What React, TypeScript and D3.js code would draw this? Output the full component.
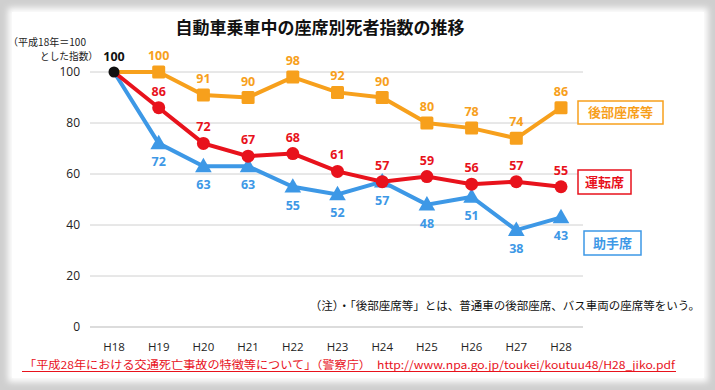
import * as d3 from 'd3'

const years = ['H18', 'H19', 'H20', 'H21', 'H22', 'H23', 'H24', 'H25', 'H26', 'H27', 'H28']
const rearSeat = [100, 100, 91, 90, 98, 92, 90, 80, 78, 74, 86]
const driverSeat = [100, 86, 72, 67, 68, 61, 57, 59, 56, 57, 55]
const passengerSeat = [100, 72, 63, 63, 55, 52, 57, 48, 51, 38, 43]
const yTicks = [0, 20, 40, 60, 80, 100]

const ORANGE = '#F7A01C'
const RED = '#E8121C'
const BLUE = '#3D98E6'
const JP = '"Noto Sans CJK JP", sans-serif'
const NUM = '"Open Sans", "Noto Sans CJK JP", sans-serif'

export default function App() {
  const W = 715
  const H = 390

  const x = d3.scalePoint().domain(years).range([114, 561])
  const y = d3.scaleLinear().domain([0, 100]).range([327, 72])

  const line = d3.line<number>()
    .x((d, i) => x(years[i])!)
    .y(d => y(d))

  const tri = d3.symbol().type(d3.symbolTriangle).size(120)

  return (
    <svg width={W} height={H} style={{ position: 'absolute', left: 0, top: 0 }}>
      <defs>
        <filter id="soft" x="-5%" y="-5%" width="110%" height="110%">
          <feGaussianBlur stdDeviation="3" />
        </filter>
      </defs>
      {/* frame */}
      <rect x={0} y={0} width={W} height={H} fill="#cfcfcf" />
      <rect x={8} y={8} width={700} height={374} fill="#ffffff" filter="url(#soft)" />
      <rect x={12} y={12} width={692} height={366} fill="#ffffff" />

      <text x={320} y={34} textAnchor="middle" fontFamily={JP} fontWeight="bold" fontSize={17} fill="#111">
        自動車乗車中の座席別死者指数の推移
      </text>
      <text x={8} y={46} fontFamily={JP} fontSize={10} fill="#222" textLength={78} lengthAdjust="spacingAndGlyphs">（平成18年＝100</text>
      <text x={40} y={60} fontFamily={JP} fontSize={10} fill="#222" textLength={58} lengthAdjust="spacingAndGlyphs">とした指数）</text>

      {/* grid + y axis */}
      {yTicks.map(t => (
        <g key={t}>
          <line x1={90} x2={583} y1={y(t)} y2={y(t)} stroke="#d0d0d0" strokeWidth={t === 0 ? 1.5 : 1} />
          <text x={80} y={y(t) + 4} textAnchor="end" fontFamily={NUM} fontSize={12} fill="#222">{t}</text>
        </g>
      ))}
      {years.map(yr => (
        <text key={yr} x={x(yr)} y={351} textAnchor="middle" fontFamily={NUM} fontSize={11.5} fill="#222">{yr}</text>
      ))}

      {/* lines */}
      <path d={line(rearSeat)!} fill="none" stroke={ORANGE} strokeWidth={4} />
      <path d={line(passengerSeat)!} fill="none" stroke={BLUE} strokeWidth={4} />
      <path d={line(driverSeat)!} fill="none" stroke={RED} strokeWidth={4} />

      {/* markers */}
      {rearSeat.map((v, i) => i === 0 ? null : (
        <rect key={'r' + i} x={x(years[i])! - 6.5} y={y(v) - 6.5} width={13} height={13} rx={1.5} fill={ORANGE} />
      ))}
      {passengerSeat.map((v, i) => i === 0 ? null : (
        <path key={'p' + i} d={tri()!} transform={`translate(${x(years[i])},${y(v) + 1})`} fill={BLUE} />
      ))}
      {driverSeat.map((v, i) => i === 0 ? null : (
        <circle key={'d' + i} cx={x(years[i])} cy={y(v)} r={6.5} fill={RED} />
      ))}
      <circle cx={x(years[0])} cy={y(100)} r={5.5} fill="#111" />

      {/* value labels */}
      <text x={x(years[0])} y={y(100) - 11} textAnchor="middle" fontFamily={NUM} fontWeight="bold" fontSize={12.5} fill="#111">100</text>
      {rearSeat.map((v, i) => i === 0 ? null : (
        <text key={'rl' + i} x={x(years[i])} y={y(v) - 12} textAnchor="middle" fontFamily={NUM} fontWeight="bold" fontSize={12.5} fill={ORANGE}>{v}</text>
      ))}
      {driverSeat.map((v, i) => i === 0 ? null : (
        <text key={'dl' + i} x={x(years[i])} y={y(v) - 12} textAnchor="middle" fontFamily={NUM} fontWeight="bold" fontSize={12.5} fill={RED}>{v}</text>
      ))}
      {passengerSeat.map((v, i) => i === 0 ? null : (
        <text key={'pl' + i} x={x(years[i])} y={y(v) + 23} textAnchor="middle" fontFamily={NUM} fontWeight="bold" fontSize={12.5} fill={BLUE}>{v}</text>
      ))}

      {/* series boxes */}
      <rect x={578} y={101} width={85} height={23} fill="#fff" stroke={ORANGE} strokeWidth={1.5} />
      <text x={620.5} y={117} textAnchor="middle" fontFamily={JP} fontWeight="bold" fontSize={13} fill={ORANGE}>後部座席等</text>
      <rect x={578} y={170} width={53} height={24} fill="#fff" stroke={RED} strokeWidth={1.5} />
      <text x={604.5} y={187} textAnchor="middle" fontFamily={JP} fontWeight="bold" fontSize={13} fill={RED}>運転席</text>
      <rect x={584} y={231} width={57} height={24} fill="#fff" stroke={BLUE} strokeWidth={1.5} />
      <text x={612.5} y={248} textAnchor="middle" fontFamily={JP} fontWeight="bold" fontSize={13} fill={BLUE}>助手席</text>

      <text x={700} y={310} textAnchor="end" fontFamily={JP} fontSize={11.5} fill="#111">
        （注）・「後部座席等」とは、普通車の後部座席、バス車両の座席等をいう。
      </text>

      {/* source */}
      <text x={24} y={369} fontFamily={JP} fontSize={11} fill={RED} textLength={651} lengthAdjust="spacingAndGlyphs">
        「平成28年における交通死亡事故の特徴等について」（警察庁）　http://www.npa.go.jp/toukei/koutuu48/H28_jiko.pdf
      </text>
      <line x1={22} x2={676} y1={371.5} y2={371.5} stroke={RED} strokeWidth={1} />
    </svg>
  )
}
